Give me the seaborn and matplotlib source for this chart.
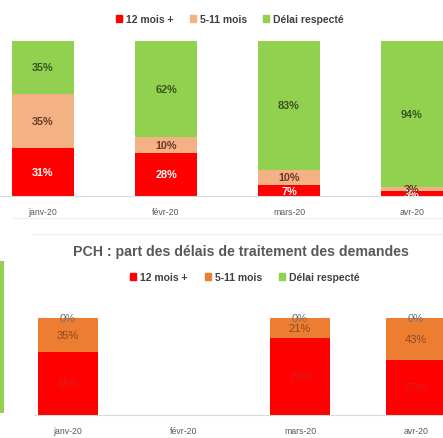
import numpy as np
import pandas as pd
import matplotlib
matplotlib.use("Agg")
import matplotlib.pyplot as plt
from matplotlib.patches import Patch, Rectangle
from matplotlib.lines import Line2D
import seaborn as sns

# data
months = ["janv-20", "févr-20", "mars-20", "avr-20"]
series = ["12 mois +", "5-11 mois", "Délai respecté"]

top_12 = [31, 28, 7, 3]
top_5_11 = [35, 10, 10, 3]
top_ok = [35, 62, 83, 94]

pch_12 = [65, np.nan, 79, 57]
pch_5_11 = [35, np.nan, 21, 43]
pch_ok = [0, np.nan, 0, 0]

pch_title = "PCH : part des délais de traitement des demandes"

sns.set_theme(style="white")
plt.rcParams["font.family"] = ["Liberation Sans", "DejaVu Sans"]

RED = "#FF0000"
PEACH = "#F4B183"
ORANGE = "#ED7D31"
GREEN = "#92D050"
GREY = "#595959"

W, H = 443, 439
fig = plt.figure(figsize=(W / 100, H / 100), dpi=100)


def stacked(ax, parts, colors, width):
    df = pd.DataFrame({"mois": months})
    cum = np.zeros(len(months))
    cums = []
    for p in parts:
        cum = cum + np.array(p, dtype=float)
        cums.append(cum.copy())
    # draw back to front: full total first, then smaller cumulative sums
    for c, col in zip(cums[::-1], colors[::-1]):
        df["v"] = c
        sns.barplot(data=df, x="mois", y="v", order=months, color=col,
                    saturation=1, width=width, linewidth=0, ax=ax, errorbar=None)
    return cums


def style_axis(ax):
    for s in ["top", "left", "right"]:
        ax.spines[s].set_visible(False)
    ax.spines["bottom"].set_color("#D9D9D9")
    ax.spines["bottom"].set_linewidth(0.8)
    ax.set_yticks([])
    ax.set_xlabel("")
    ax.set_ylabel("")
    ax.tick_params(axis="x", length=0, pad=8, labelsize=6.3, labelcolor=GREY)


# ---- top chart
ax1 = fig.add_axes([0, (H - 197) / H, 1, 155 / H])
parts = [top_12, top_5_11, top_ok]
cums = stacked(ax1, parts, [RED, PEACH, GREEN], 0.504)
ax1.set_ylim(0, 100)
ax1.set_xlim(-43 / 123, 3 + 31 / 123)
style_axis(ax1)
lab_cols = ["white", "#6B3B28", "#3B5323"]
for k, p in enumerate(parts):
    for i, v in enumerate(p):
        base = cums[k][i] - v
        ax1.text(i, base + v / 2, f"{v}%", ha="center", va="center",
                 fontsize=7.8, fontweight="bold", color=lab_cols[k], clip_on=False)

h1 = [Patch(color=c) for c in [RED, PEACH, GREEN]]
fig.legend(h1, series, loc="center", bbox_to_anchor=(0.519, (H - 20) / H), ncol=3,
           frameon=False, handlelength=0.6, handleheight=0.6,
           handletextpad=0.4, columnspacing=1.5, prop={"weight": "bold", "size": 7.5},
           labelcolor="#404040")

# ---- bottom chart
ax2 = fig.add_axes([35 / W, (H - 416) / H, (W - 35) / W, 97 / H])
parts2 = [pch_12, pch_5_11, pch_ok]
cums2 = stacked(ax2, parts2, [RED, ORANGE, GREEN], 0.509)
ax2.set_ylim(0, 100)
ax2.set_xlim(-33 / 116, 3 + 27 / 116)
style_axis(ax2)
lab_cols2 = ["#D42020", "#8B4A22", "#6E6E6E"]
for k, p in enumerate(parts2):
    for i, v in enumerate(p):
        if np.isnan(v):
            continue
        base = cums2[k][i] - v
        ax2.text(i, base + v / 2, f"{v:.0f}%", ha="center", va="center",
                 fontsize=8, color=lab_cols2[k], clip_on=False)

fig.text(0.545, (H - 252) / H, pch_title, ha="center", va="center",
         fontsize=10.2, fontweight="bold", color=GREY)
h2 = [Patch(color=c) for c in [RED, ORANGE, GREEN]]
fig.legend(h2, series, loc="center", bbox_to_anchor=(0.553, (H - 278) / H), ncol=3,
           frameon=False, handlelength=0.6, handleheight=0.6,
           handletextpad=0.4, columnspacing=1.6, prop={"weight": "bold", "size": 7.5},
           labelcolor="#404040")

# neighbouring chart edges visible in the screenshot
fig.add_artist(Rectangle((0, (H - 414) / H), 4 / W, 152 / H,
                         transform=fig.transFigure, color=GREEN, lw=0))
fig.add_artist(Line2D([0.03, 1], [(H - 219) / H] * 2, color="#EEEEEE", lw=0.8))
fig.add_artist(Line2D([33 / W, 1], [(H - 235) / H] * 2, color="#EEEEEE", lw=0.8))

fig.savefig("out.png", dpi=100)
